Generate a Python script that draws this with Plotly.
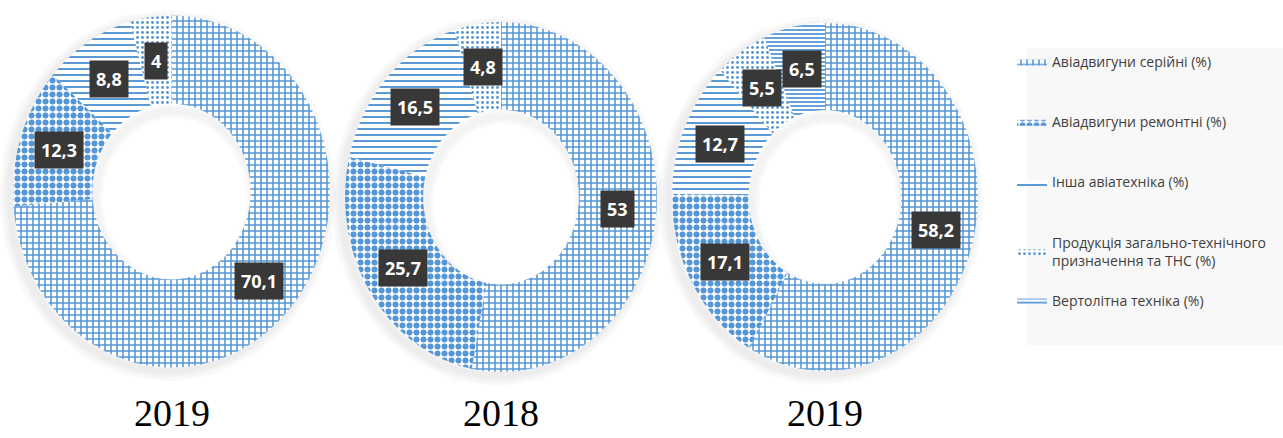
import numpy as np
import plotly.graph_objects as go

# ---- data ---------------------------------------------------------------
categories = [
    "Авіадвигуни серійні (%)",
    "Авіадвигуни ремонтні (%)",
    "Інша авіатехніка (%)",
    "Продукція загально-технічного<br>призначення та ТНС (%)",
    "Вертолітна техніка (%)",
]
years = ["2019", "2018", "2019"]
values_2019a = [70.1, 12.3, 8.8, 4.0, None]
values_2018 = [53.0, 25.7, 16.5, 4.8, None]
values_2019b = [58.2, 17.1, 12.7, 5.5, 6.5]
series = [values_2019a, values_2018, values_2019b]

# ---- geometry (pixel space of the canvas) -------------------------------
W, H = 1283, 438
PANELS = [
    dict(cx=171.5, cy=191.5, rx=158.5, ry=176.0),
    dict(cx=501.0, cy=197.0, rx=156.0, ry=175.0),
    dict(cx=825.0, cy=197.0, rx=153.0, ry=174.0),
]
HOLE = 0.5
LABEL_R = 0.75
YEAR_Y = 413

BLUE = "#5596d6"
PATTERNS = [
    dict(shape="+", size=6, solidity=0.45),
    dict(shape=".", size=7, solidity=0.58),
    dict(shape="-", size=6, solidity=0.32),
    dict(shape=".", size=5, solidity=0.26),
    dict(shape="-", size=4, solidity=0.45),
]


def ellipse_pts(p, scale, t, dx=0.0, dy=0.0):
    return (p["cx"] + dx + scale * p["rx"] * np.sin(t),
            p["cy"] + dy - scale * p["ry"] * np.cos(t))


def wedge(p, a0, a1):
    n = max(int((a1 - a0) / (2 * np.pi) * 360), 4)
    t = np.linspace(a0, a1, n)
    xo, yo = ellipse_pts(p, 1.0, t)
    xi, yi = ellipse_pts(p, HOLE, t[::-1])
    x = np.concatenate([xo, xi, xo[:1]])
    y = np.concatenate([yo, yi, yo[:1]])
    return x, y


fig = go.Figure()

# soft shadow around each ring and along the upper edge of each hole
full = np.linspace(0, 2 * np.pi, 361)
for p in PANELS:
    for w in (20, 13, 7):
        x, y = ellipse_pts(p, 1.0, full, dx=-4, dy=4)
        fig.add_trace(go.Scatter(x=x, y=y, mode="lines", hoverinfo="skip",
                                 line=dict(color="rgba(0,0,0,0.025)", width=w),
                                 showlegend=False))
    for w in (14, 8):
        x, y = ellipse_pts(p, HOLE, full, dx=3, dy=7)
        fig.add_trace(go.Scatter(x=x, y=y, mode="lines", hoverinfo="skip",
                                 line=dict(color="rgba(0,0,0,0.025)", width=w),
                                 showlegend=False))

shown = set()
annotations = []
for k, (p, vals) in enumerate(zip(PANELS, series)):
    present = [(i, v) for i, v in enumerate(vals) if v is not None]
    total = sum(v for _, v in present)
    start = 0.0
    for i, v in present:
        span = 2 * np.pi * v / total
        x, y = wedge(p, start, start + span)
        first = i not in shown
        shown.add(i)
        fig.add_trace(go.Scatter(
            x=x, y=y, mode="lines", fill="toself",
            line=dict(width=0, color=BLUE),
            fillcolor="white",
            fillpattern=dict(fgcolor=BLUE, bgcolor="white", fgopacity=1,
                             **PATTERNS[i]),
            name=categories[i], legendgroup=str(i),
            legend="legend2" if i == 4 else "legend",
            showlegend=first, hoverinfo="skip",
        ))
        mid = start + span / 2
        lx, ly = ellipse_pts(p, LABEL_R, np.array([mid]))
        txt = f"{v:g}".replace(".", ",")
        annotations.append(dict(
            x=float(lx[0]), y=float(ly[0]), text=f"<b>{txt}</b>", showarrow=False,
            font=dict(family="Open Sans", size=18, color="white"),
            bgcolor="#383838", borderpad=6))
        start += span

    annotations.append(dict(
        x=p["cx"], y=YEAR_Y, text=years[k], showarrow=False,
        font=dict(family="Liberation Serif", size=38, color="black")))

legend_font = dict(family="Open Sans", size=14, color="#404040")
fig.update_layout(
    width=W, height=H,
    margin=dict(l=0, r=0, t=0, b=0),
    paper_bgcolor="white", plot_bgcolor="white",
    xaxis=dict(range=[0, W], visible=False, fixedrange=True),
    yaxis=dict(range=[H, 0], visible=False, fixedrange=True),
    annotations=annotations,
    shapes=[dict(type="rect", xref="x", yref="y", x0=1027, x1=1283, y0=48, y1=345,
                 fillcolor="#f8f8f8", line=dict(width=0), layer="below")],
    legend=dict(x=1012 / W, y=1 - 46 / H, xanchor="left", yanchor="top",
                bgcolor="rgba(0,0,0,0)", font=legend_font, tracegroupgap=39,
                traceorder="grouped", itemwidth=30),
    legend2=dict(x=1012 / W, y=1 - 285 / H, xanchor="left", yanchor="top",
                 bgcolor="rgba(0,0,0,0)", font=legend_font, itemwidth=30),
    hovermode=False,
)

fig.write_html("out.html")
